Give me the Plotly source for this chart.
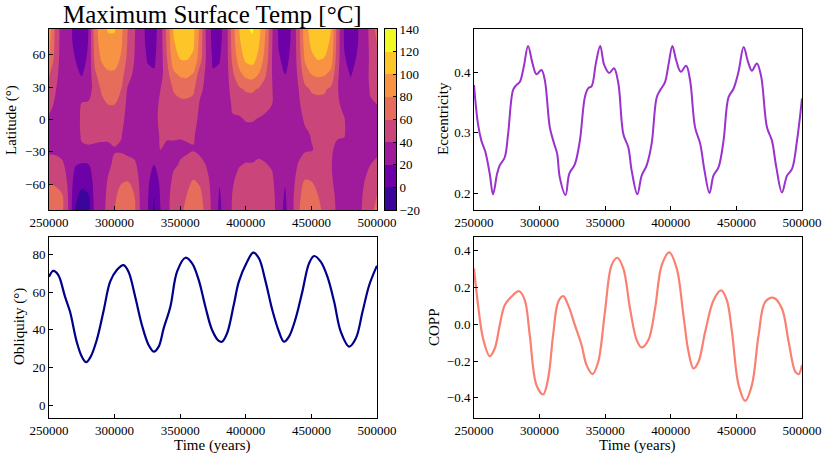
import numpy as np
import plotly.graph_objects as go

FONT = "Liberation Serif"

# ---- maximum surface temperature grid (deg C) ----
grid_time = list(range(250000, 500001, 5000))
# latitudes, north -> south (each column below follows this order)
grid_lat = [84, 70, 56, 42, 28, 14, 0, -14, -28, -42, -56, -70, -84]

tmax_cols = [
    [90, 86, 80, 62, 52, 46, 37, 34, 36, 48, 58, 67, 72],    # 250000
    [55, 54, 51, 46, 41, 37, 35, 34, 36, 47, 56, 65, 70],    # 255000
    [30, 30, 30, 30, 30, 29, 29, 31, 34, 43, 52, 61, 64],    # 260000
    [25, 26, 27, 28, 29, 29, 29, 30, 31, 33, 35, 37, 38],    # 265000
    [15, 16, 20, 23, 26, 29, 30, 29, 27, 21, 12, 4, 0],      # 270000
    [6, 8, 13, 19, 27, 42, 44, 43, 37, 18, 6, -4, -10],      # 275000
    [20, 21, 23, 26, 30, 43, 45, 44, 38, 19, 8, -1, -6],     # 280000
    [72, 70, 65, 57, 49, 45, 46, 44, 37, 29, 28, 27, 26],    # 285000
    [92, 88, 82, 70, 62, 56, 48, 43, 37, 31, 31, 32, 32],    # 290000
    [101, 97, 90, 76, 66, 60, 50, 44, 36, 37, 41, 44, 46],   # 295000
    [101, 97, 90, 76, 66, 60, 50, 44, 39, 43, 50, 56, 60],   # 300000
    [86, 83, 77, 68, 60, 52, 45, 41, 38, 47, 57, 67, 72],    # 305000
    [60, 58, 55, 48, 38, 35, 34, 33, 34, 48, 59, 69, 74],    # 310000
    [42, 41, 40, 36, 33, 32, 31, 31, 33, 44, 52, 60, 64],    # 315000
    [28, 28, 29, 30, 30, 30, 30, 30, 31, 32, 34, 35, 36],    # 320000
    [14, 16, 19, 23, 27, 29, 29, 30, 29, 28, 25, 23, 22],    # 325000
    [12, 14, 17, 22, 30, 36, 36, 33, 28, 20, 10, 1, -4],     # 330000
    [30, 30, 30, 33, 40, 42, 43, 42, 40, 27, 24, 22, 20],    # 335000
    [66, 64, 60, 53, 47, 44, 44, 42, 37, 32, 33, 34, 34],    # 340000
    [102, 98, 91, 76, 62, 52, 46, 42, 37, 38, 43, 48, 50],   # 345000
    [112, 107, 100, 83, 67, 55, 47, 41, 38, 41, 47, 53, 56], # 350000
    [114, 109, 101, 84, 68, 55, 47, 42, 38, 44, 52, 60, 64], # 355000
    [106, 103, 96, 79, 64, 53, 46, 42, 39, 49, 60, 70, 76],  # 360000
    [76, 73, 69, 50, 44, 38, 36, 34, 35, 47, 56, 65, 70],    # 365000
    [36, 36, 37, 36, 35, 33, 32, 31, 33, 39, 45, 49, 52],    # 370000
    [12, 14, 17, 22, 26, 28, 29, 30, 30, 32, 33, 34, 34],    # 375000
    [14, 16, 19, 23, 26, 28, 29, 30, 29, 26, 22, 18, 16],    # 380000
    [30, 30, 31, 31, 31, 30, 29, 29, 30, 31, 31, 30, 30],    # 385000
    [72, 70, 65, 57, 49, 43, 38, 36, 34, 35, 38, 41, 42],    # 390000
    [100, 96, 89, 75, 57, 46, 38, 34, 33, 39, 45, 49, 52],   # 395000
    [118, 113, 104, 86, 62, 50, 41, 34, 34, 41, 47, 53, 56], # 400000
    [122, 116, 107, 89, 63, 50, 41, 35, 34, 41, 47, 53, 56], # 405000
    [106, 101, 94, 79, 58, 47, 39, 34, 37, 42, 48, 55, 58],  # 410000
    [80, 77, 72, 62, 52, 44, 37, 32, 34, 41, 47, 53, 56],    # 415000
    [42, 41, 40, 40, 41, 40, 34, 33, 34, 38, 43, 48, 50],    # 420000
    [18, 19, 22, 25, 27, 29, 29, 30, 30, 29, 29, 28, 28],    # 425000
    [8, 10, 15, 20, 25, 28, 29, 30, 29, 26, 22, 18, 16],     # 430000
    [22, 23, 24, 26, 28, 29, 30, 30, 31, 32, 33, 34, 34],    # 435000
    [50, 49, 47, 43, 39, 36, 34, 34, 35, 41, 47, 53, 56],    # 440000
    [92, 88, 82, 70, 55, 49, 42, 37, 38, 49, 60, 70, 76],    # 445000
    [108, 103, 96, 80, 62, 53, 46, 41, 39, 48, 59, 69, 74],  # 450000
    [114, 109, 101, 84, 63, 55, 48, 44, 43, 45, 52, 60, 64], # 455000
    [112, 107, 99, 82, 62, 55, 47, 44, 43, 44, 47, 53, 56],  # 460000
    [100, 96, 89, 75, 56, 51, 44, 42, 41, 41, 42, 46, 48],   # 465000
    [50, 49, 47, 43, 41, 42, 42, 41, 38, 33, 34, 35, 36],    # 470000
    [18, 19, 22, 25, 28, 36, 41, 41, 36, 31, 30, 30, 30],    # 475000
    [6, 8, 13, 19, 24, 28, 31, 33, 30, 29, 29, 28, 28],      # 480000
    [18, 19, 22, 25, 27, 29, 29, 30, 30, 31, 31, 32, 32],    # 485000
    [30, 30, 30, 30, 30, 30, 30, 31, 32, 36, 39, 42, 44],    # 490000
    [45, 44, 43, 44, 42, 38, 33, 33, 34, 40, 46, 51, 54],    # 495000
    [68, 60, 52, 48, 44, 40, 33, 33, 36, 44, 52, 60, 66],    # 500000
]

temp_levels = [-20, 0, 20, 40, 60, 80, 100, 120, 140]
band_colors = ["#3b049a", "#6e00a8", "#9f1b9c", "#c9457a",
               "#e66c5c", "#f79342", "#fdc527", "#f0f921"]

# ---- orbital elements ----
ecc_time = [250000, 253000, 255600, 258700, 262000, 264500, 267600, 269600, 273400, 276000,
            279800, 282300, 284900, 287900, 291200, 294600, 297600, 301400, 304000, 307800,
            310800, 313400, 315400, 319800, 322600, 326900, 330700, 334500, 337100, 339600,
            342900, 346200, 349300, 353100, 356700, 360000, 363800, 367600, 370200, 374500,
            377800, 381600, 385400, 389300, 392300, 395600, 398400, 401200, 404000, 407600,
            411700, 414700, 418500, 422400, 425700, 429500, 432500, 436400, 440200, 444000,
            447800, 451600, 455500, 458800, 461800, 465600, 468900, 473300, 477100, 480400,
            484700, 488600, 492400, 496200, 500000]
ecc = [0.379, 0.315, 0.287, 0.268, 0.232, 0.198, 0.232, 0.246, 0.259, 0.298,
       0.371, 0.379, 0.384, 0.409, 0.444, 0.415, 0.397, 0.404, 0.387, 0.309,
       0.284, 0.265, 0.226, 0.197, 0.232, 0.248, 0.287, 0.359, 0.374, 0.377,
       0.415, 0.444, 0.412, 0.399, 0.407, 0.382, 0.298, 0.276, 0.237, 0.198,
       0.229, 0.246, 0.282, 0.359, 0.372, 0.384, 0.415, 0.444, 0.421, 0.401,
       0.411, 0.387, 0.309, 0.282, 0.237, 0.200, 0.229, 0.243, 0.287, 0.359,
       0.373, 0.401, 0.442, 0.418, 0.403, 0.415, 0.393, 0.309, 0.287, 0.243,
       0.201, 0.229, 0.240, 0.287, 0.357]

obl_time = [250000, 253300, 257100, 262200, 266000, 271100, 275000, 278300, 281800, 286400,
            291500, 296600, 301700, 306800, 310600, 315700, 320800, 325900, 329800, 333600,
            337400, 342500, 347600, 354000, 359100, 364100, 369200, 374300, 379400, 381900,
            385700, 390800, 394700, 401000, 405700, 410000, 415100, 420200, 425300, 429100,
            432900, 438000, 443100, 448200, 452100, 457100, 462200, 467300, 472400, 478800,
            483900, 489000, 494100, 500000]
obl = [68.1, 71.2, 69.0, 57.5, 49.6, 33.6, 25.7, 22.7, 25.7, 34.5,
       49.6, 65.5, 71.7, 74.3, 70.8, 57.5, 42.5, 31.9, 28.3, 31.0,
       40.7, 52.2, 70.8, 78.2, 75.2, 66.4, 52.2, 39.8, 34.0, 33.6,
       38.0, 53.1, 65.5, 76.1, 80.9, 77.9, 65.5, 50.4, 38.9, 33.6,
       36.3, 46.0, 60.2, 75.2, 79.1, 76.1, 68.1, 54.9, 38.9, 31.0,
       35.4, 49.6, 63.7, 74.0]

copp_time = [250000, 253100, 256900, 262000, 265800, 269600, 273400, 278500, 284400, 288700,
             292500, 297600, 302700, 306500, 310300, 314200, 318000, 321800, 326900, 332000,
             335800, 340400, 344700, 349800, 354900, 359200, 363800, 368900, 374000, 377800,
             382900, 388000, 393100, 398900, 404500, 409600, 413500, 417300, 421100, 426200,
             432600, 438400, 442700, 446600, 451700, 456700, 461800, 466900, 472000, 478400,
             484700, 489800, 494900, 497500, 500000]
copp = [0.304, 0.104, -0.077, -0.173, -0.132, -0.005, 0.104, 0.150, 0.180, 0.132,
        -0.059, -0.331, -0.382, -0.295, -0.059, 0.122, 0.153, 0.104, -0.005, -0.113,
        -0.222, -0.271, -0.204, 0.068, 0.322, 0.362, 0.304, 0.086, -0.086, -0.126,
        -0.086, 0.086, 0.322, 0.391, 0.304, 0.050, -0.150, -0.240, -0.204, -0.041,
        0.131, 0.184, 0.131, -0.041, -0.331, -0.416, -0.331, -0.059, 0.122, 0.144,
        0.086, -0.095, -0.258, -0.271, -0.222]

time_ticks = [250000, 300000, 350000, 400000, 450000, 500000]

# stepped colour scale so each contour band gets one flat colour
nb = len(band_colors)
cscale = [[0.0, band_colors[0]]]
for k in range(nb - 1):
    edge = (k + 1.5) / (nb + 1)
    cscale.append([edge, band_colors[k]])
    cscale.append([edge, band_colors[k + 1]])
cscale.append([1.0, band_colors[-1]])

z = np.array(tmax_cols).T[::-1]
lat_up = grid_lat[::-1]
band_mid = [(a + b) / 2 for a, b in zip(temp_levels[:-1], temp_levels[1:])]

fig = go.Figure()

fig.add_trace(go.Contour(
    x=grid_time, y=lat_up, z=z,
    colorscale=cscale, showscale=False,
    contours=dict(start=temp_levels[0], end=temp_levels[-1], size=20,
                  coloring="fill", showlines=False),
    line=dict(width=0),
    xaxis="x", yaxis="y",
))

# colour bar drawn as a one-column heatmap on its own axis
fig.add_trace(go.Heatmap(
    x=[0], y=band_mid, z=[[v] for v in band_mid],
    colorscale=cscale, zmin=-30, zmax=150, showscale=False,
    xaxis="x5", yaxis="y5", hoverinfo="skip",
))

fig.add_trace(go.Scatter(x=ecc_time, y=ecc, mode="lines", line_shape="spline",
                         line=dict(color="#9a32cd", width=2), xaxis="x2", yaxis="y2",
                         showlegend=False))
fig.add_trace(go.Scatter(x=obl_time, y=obl, mode="lines", line_shape="spline",
                         line=dict(color="#00008b", width=2.2), xaxis="x3", yaxis="y3",
                         showlegend=False))
fig.add_trace(go.Scatter(x=copp_time, y=copp, mode="lines", line_shape="spline",
                         line=dict(color="#fa8072", width=2.2), xaxis="x4", yaxis="y4",
                         showlegend=False))

axis_common = dict(showline=True, linecolor="black", linewidth=1, mirror=True,
                   ticks="inside", ticklen=4, tickcolor="black", showgrid=False,
                   zeroline=False, automargin=False,
                   tickfont=dict(family=FONT, size=13, color="black"))

x_left = [49 / 830, 377 / 830]
x_right = [474 / 830, 802 / 830]
x_cbar = [385 / 830, 396 / 830]
y_top = [1 - 210 / 459, 1 - 29 / 459]
y_bot = [1 - 418 / 459, 1 - 237 / 459]

fig.update_layout(
    width=830, height=459,
    margin=dict(l=0, r=0, t=0, b=0, autoexpand=False),
    paper_bgcolor="white", plot_bgcolor="white",
    showlegend=False,
    xaxis=dict(axis_common, domain=x_left, anchor="y", range=[250000, 500000],
               tickvals=time_ticks, tickformat="d"),
    yaxis=dict(axis_common, domain=y_top, anchor="x", range=[-84, 84],
               tickvals=[-60, -30, 0, 30, 60]),
    xaxis2=dict(axis_common, domain=x_right, anchor="y2", range=[250000, 500000],
                tickvals=time_ticks, tickformat="d"),
    yaxis2=dict(axis_common, domain=y_top, anchor="x2", range=[0.172, 0.472],
                tickvals=[0.2, 0.3, 0.4], tickformat=".1f"),
    xaxis3=dict(axis_common, domain=x_left, anchor="y3", range=[250000, 500000],
                tickvals=time_ticks, tickformat="d"),
    yaxis3=dict(axis_common, domain=y_bot, anchor="x3", range=[-6.9, 89.2],
                tickvals=[0, 20, 40, 60, 80]),
    xaxis4=dict(axis_common, domain=x_right, anchor="y4", range=[250000, 500000],
                tickvals=time_ticks, tickformat="d"),
    yaxis4=dict(axis_common, domain=y_bot, anchor="x4", range=[-0.51, 0.475],
                tickvals=[-0.4, -0.2, 0.0, 0.2, 0.4], tickformat=".1f"),
    xaxis5=dict(axis_common, domain=x_cbar, anchor="y5", range=[-0.5, 0.5],
                ticks="", showticklabels=False),
    yaxis5=dict(axis_common, domain=y_top, anchor="x5", side="right",
                range=[-20, 140], tickvals=temp_levels, ticklen=3),
)

labels = [
    ("Maximum Surface Temp [°C]", 213, 15, 0, 25),
    ("Latitude (°)", 12, 120, -90, 15),
    ("Eccentricity", 443, 119, -90, 15),
    ("Obliquity (°)", 19, 327, -90, 15),
    ("COPP", 434, 327, -90, 15),
    ("Time (years)", 212, 445, 0, 15),
    ("Time (years)", 637, 445, 0, 15),
]
for text, px, py, ang, size in labels:
    fig.add_annotation(text=text, x=px / 830, y=1 - py / 459, xref="paper", yref="paper",
                       xanchor="center", yanchor="middle", textangle=ang,
                       showarrow=False, font=dict(family=FONT, size=size, color="black"))

# drop the default page margin so the figure sits at the window's corner
fig.write_html("out.html", config={"displayModeBar": False},
               post_script="document.body.style.margin = '0';")
